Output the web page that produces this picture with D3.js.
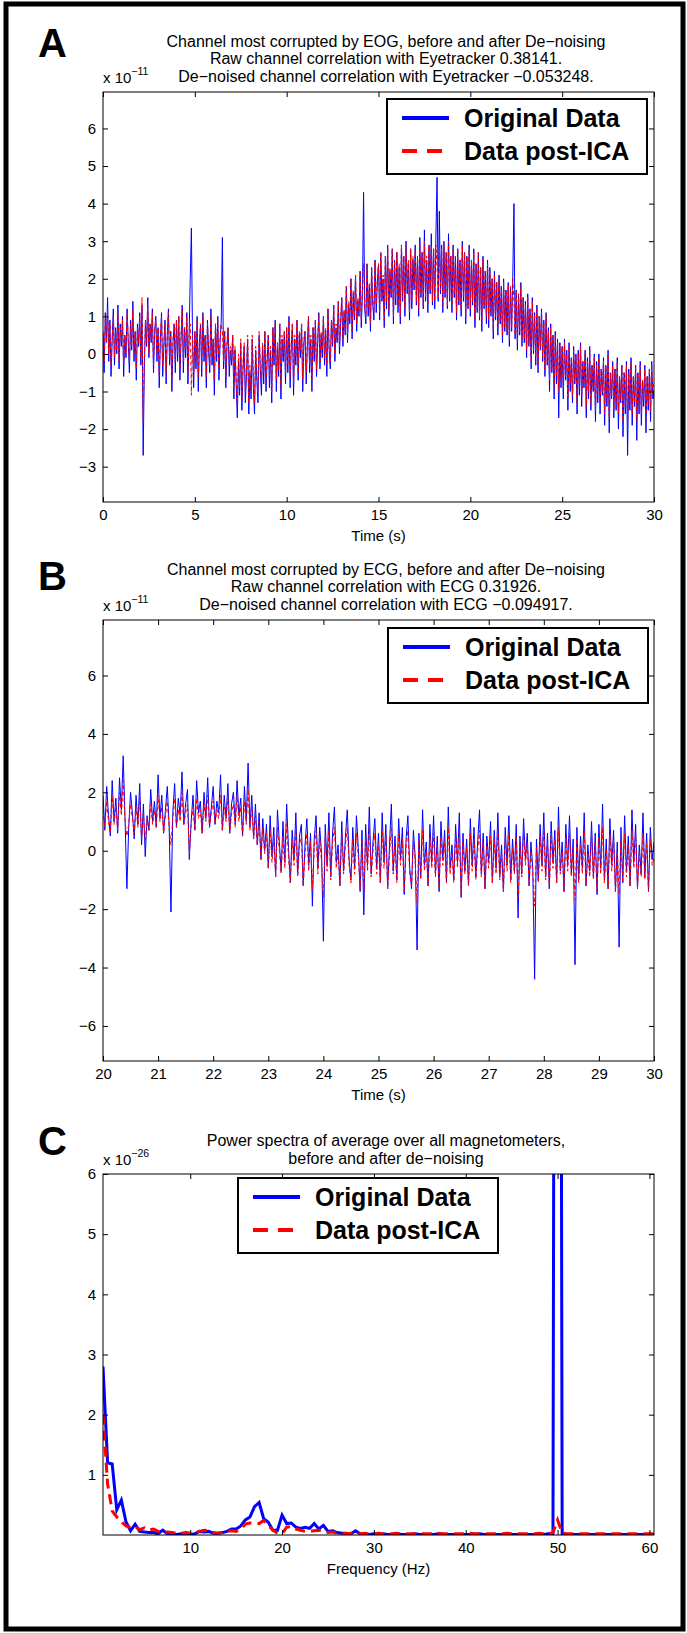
<!DOCTYPE html>
<html>
<head>
<meta charset="utf-8">
<title>EOG / ECG de-noising</title>
<style>
body { margin: 0; background: #fff; }
svg text { font-family: "Liberation Sans", Arial, Helvetica, sans-serif; fill: #000; }
.tick line { stroke: #000; }
</style>
</head>
<body>
<script src="https://cdn.jsdelivr.net/npm/d3@7"></script>
<script>

var width = 687,
    height = 1633;
var left = 103, right = 654;

// ---- panel A : channel most corrupted by EOG (x 1e-11), 16 values per second
var eogStart = 0, eogStep = 0.0625;
var eogOriginal = [
 0.6,-0.5,1.1,0.3,1.5,-0.2,0.9,-0.6,0.4,1.2,-0.3,0.7,0.0,1.3,-0.4,0.8,
 0.2,1.0,-0.6,0.5,-0.1,1.2,0.3,-0.5,0.9,0.1,1.4,-0.2,0.6,-0.7,0.8,0.2,
 1.1,-0.3,1.3,-2.7,-0.4,0.9,0.2,1.5,-0.1,0.8,0.3,1.2,-0.5,0.6,1.0,-0.2,
 0.7,-0.9,0.4,1.1,-0.6,0.2,0.9,-0.8,0.5,1.2,-0.3,0.6,-1.0,0.3,0.8,-0.5,
 0.9,-0.2,1.0,-0.7,0.4,1.3,-0.5,0.7,-0.1,1.1,-0.8,0.5,2.0,3.35,0.4,-0.9,
 0.6,-0.4,1.0,-1.0,0.3,0.8,-0.6,1.1,-0.2,0.5,-0.9,0.9,0.1,-0.5,1.2,-0.3,
 0.4,-1.1,0.8,-0.2,1.0,-0.7,0.3,0.9,3.1,-0.4,0.6,-0.9,0.2,0.7,-0.6,0.1,
 -0.3,0.5,-1.2,0.1,-0.8,-1.7,-0.2,-1.1,0.3,-1.5,-0.4,0.2,-1.3,-0.6,0.4,-1.6,
 -0.5,-1.2,0.4,-0.9,-1.6,0.1,-0.7,-1.3,0.5,-0.4,-1.1,0.2,-0.8,0.6,-1.0,-0.2,
 0.5,-0.9,0.1,-1.3,0.7,-0.3,0.9,-1.0,0.2,-0.6,0.8,-1.2,0.4,-0.2,0.6,-0.8,
 0.7,-0.5,1.0,-0.9,0.2,0.8,-1.1,0.4,-0.3,0.9,-0.7,0.5,-0.1,0.8,-1.0,0.3,
 0.6,-0.8,0.2,1.0,-0.5,0.4,-1.0,0.7,-0.2,0.9,-0.6,0.3,1.1,-0.4,0.5,-0.1,
 1.0,-0.3,0.6,-0.6,1.2,0.1,-0.4,0.9,0.2,1.3,-0.2,0.7,0.3,1.4,0.0,0.8,
 1.5,0.2,1.1,0.5,1.8,0.3,1.3,0.8,2.0,0.4,1.6,0.9,2.1,0.6,1.4,1.0,
 2.2,0.7,1.6,4.3,1.2,0.8,2.4,1.0,1.8,0.6,2.3,1.3,0.9,2.5,1.1,1.9,
 2.4,0.9,2.7,1.4,2.0,0.7,2.6,1.2,2.9,1.0,2.2,1.5,2.8,0.8,2.5,1.3,
 2.7,1.1,2.3,0.8,2.9,1.4,2.6,1.0,3.0,1.6,2.4,0.9,2.8,1.2,2.5,1.7,
 2.9,1.3,2.6,1.0,3.1,1.5,2.7,1.2,3.3,1.4,2.5,1.1,2.9,1.6,3.2,1.3,
 2.8,1.2,3.1,4.7,1.4,3.8,1.6,2.9,1.1,3.0,1.5,2.7,1.2,3.2,1.4,2.6,
 1.1,2.9,1.5,2.6,0.9,2.8,1.3,2.5,1.0,3.0,1.4,2.7,0.8,2.6,1.2,2.9,
 1.0,2.5,1.3,2.8,0.7,2.4,1.1,2.7,0.9,2.3,0.6,2.6,1.2,2.2,0.8,2.5,
 0.7,2.3,1.0,2.0,0.4,2.2,0.9,1.9,0.5,2.1,0.8,1.8,0.3,2.0,0.6,1.7,
 0.5,1.9,0.2,1.8,0.6,2.1,4.0,0.4,1.7,0.1,1.6,0.5,1.9,0.2,1.5,0.3,
 1.4,-0.1,1.6,0.2,1.2,-0.4,1.5,0.0,1.1,-0.3,1.3,-0.5,1.0,0.1,1.2,-0.2,
 0.9,-0.6,1.1,-0.3,0.7,-1.0,0.8,-0.5,0.5,-1.2,0.6,-0.8,0.4,-1.7,0.3,-0.9,
 0.2,-1.2,0.4,-0.7,0.1,-1.5,0.3,-1.0,-0.1,-1.3,0.2,-0.8,0.0,-1.6,0.1,-1.1,
 0.3,-1.4,-0.2,-0.9,0.1,-1.7,-0.1,-1.2,0.2,-1.5,-0.3,-1.0,0.0,-1.8,-0.2,-1.3,
 0.0,-1.6,-0.4,-1.1,-0.1,-1.9,-0.3,-1.4,0.1,-2.1,-0.5,-1.2,-0.2,-1.7,-0.4,-1.5,
 -0.1,-2.0,-0.6,-1.3,-0.3,-2.2,-0.5,-1.6,-0.2,-2.7,-0.4,-1.5,-0.1,-1.9,-0.6,-1.4,
 -0.3,-2.3,-0.5,-1.6,-0.2,-1.9,-0.7,-1.4,-0.3,-2.1,-0.6,-1.5,-0.4,-1.8,-0.2,-1.2,
 -1.0];
var eogPostICA = [
 0.5,-0.2,0.9,0.3,1.2,0.0,0.8,-0.3,0.4,1.0,-0.1,0.6,0.1,1.1,-0.2,0.7,
 0.3,0.9,-0.3,0.5,0.0,1.1,0.4,-0.2,0.8,0.2,1.2,0.0,0.6,-0.4,0.7,0.3,
 1.0,-0.1,1.5,-1.8,-0.2,0.9,0.3,1.3,0.0,0.8,0.4,1.1,-0.3,0.6,0.9,0.0,
 0.7,-0.6,0.5,1.0,-0.3,0.3,0.8,-0.5,0.5,1.1,-0.1,0.6,-0.7,0.4,0.8,-0.2,
 0.9,0.0,1.0,-0.4,0.5,1.2,-0.2,0.7,0.1,1.0,-0.5,0.5,0.8,-1.1,0.5,-0.5,
 0.6,-0.2,0.9,-0.6,0.4,0.8,-0.3,1.0,0.0,0.5,-0.6,0.8,0.2,-0.3,1.0,-0.1,
 0.4,-0.7,0.8,0.0,0.9,-0.4,0.4,0.8,0.6,-0.2,0.6,-0.6,0.3,0.7,-0.3,0.2,
 -0.1,0.5,-0.9,0.2,-0.6,-1.4,0.0,-0.9,0.4,-1.2,-0.2,0.3,-1.0,-0.4,0.5,-1.3,
 -0.3,-1.0,0.5,-0.6,-1.3,0.2,-0.5,-1.0,0.6,-0.2,-0.8,0.3,-0.5,0.6,-0.7,0.0,
 0.5,-0.6,0.2,-1.0,0.7,-0.1,0.8,-0.7,0.3,-0.4,0.8,-0.9,0.5,0.0,0.6,-0.5,
 0.7,-0.3,0.9,-0.6,0.3,0.8,-0.8,0.5,-0.1,0.9,-0.5,0.6,0.1,0.8,-0.7,0.4,
 0.6,-0.5,0.3,1.0,-0.3,0.5,-0.7,0.7,0.0,0.9,-0.4,0.4,1.0,-0.2,0.6,0.1,
 1.0,-0.1,0.7,-0.3,1.2,0.2,-0.2,0.9,0.3,1.3,0.0,0.8,0.4,1.4,0.2,0.9,
 1.5,0.4,1.2,0.6,1.8,0.5,1.4,0.9,2.0,0.6,1.7,1.0,2.1,0.8,1.5,1.1,
 2.2,0.9,1.7,2.4,1.2,1.0,2.4,1.2,1.9,0.8,2.3,1.4,1.1,2.5,1.3,2.0,
 2.4,1.1,2.7,1.5,2.1,0.9,2.6,1.4,2.8,1.2,2.3,1.6,2.8,1.0,2.5,1.5,
 2.7,1.3,2.4,1.0,2.9,1.5,2.6,1.2,2.9,1.7,2.5,1.1,2.8,1.4,2.6,1.8,
 2.8,1.4,2.6,1.2,2.9,1.6,2.7,1.3,3.0,1.5,2.6,1.3,2.9,1.7,2.9,1.4,
 2.8,1.4,2.9,2.3,1.5,2.7,1.7,2.8,1.3,2.9,1.6,2.7,1.3,3.0,1.5,2.6,
 1.3,2.8,1.6,2.6,1.1,2.8,1.4,2.5,1.2,2.9,1.5,2.7,1.0,2.6,1.3,2.8,
 1.2,2.5,1.4,2.7,0.9,2.4,1.2,2.7,1.0,2.3,0.8,2.5,1.3,2.2,1.0,2.4,
 0.9,2.2,1.1,2.0,0.6,2.1,1.0,1.9,0.7,2.0,0.9,1.8,0.5,1.9,0.7,1.7,
 0.6,1.8,0.4,1.8,0.7,2.0,1.4,0.5,1.7,0.3,1.6,0.6,1.8,0.4,1.5,0.4,
 1.3,0.1,1.5,0.3,1.2,-0.2,1.4,0.1,1.0,-0.1,1.2,-0.3,1.0,0.2,1.1,-0.1,
 0.8,-0.4,1.0,-0.2,0.6,-0.7,0.7,-0.4,0.5,-0.9,0.5,-0.6,0.3,-1.0,0.2,-0.7,
 0.2,-0.9,0.3,-0.6,0.0,-1.2,0.2,-0.8,-0.1,-1.1,0.1,-0.7,-0.1,-1.3,0.0,-0.9,
 0.2,-1.1,-0.2,-0.8,0.0,-1.4,-0.2,-1.0,0.1,-1.3,-0.3,-0.9,-0.1,-1.5,-0.3,-1.1,
 -0.1,-1.3,-0.4,-1.0,-0.2,-1.6,-0.3,-1.2,0.0,-1.7,-0.5,-1.1,-0.3,-1.5,-0.4,-1.3,
 -0.2,-1.6,-0.6,-1.2,-0.3,-1.8,-0.5,-1.4,-0.3,-1.7,-0.5,-1.3,-0.2,-1.6,-0.6,-1.3,
 -0.3,-1.8,-0.5,-1.4,-0.3,-1.6,-0.7,-1.2,-0.4,-1.7,-0.6,-1.3,-0.4,-1.5,-0.3,-1.1,
 -0.8];
var eogTitle = ["Channel most corrupted by EOG, before and after De\u2212noising",
                "Raw channel correlation with Eyetracker 0.38141.",
                "De\u2212noised channel correlation with Eyetracker \u22120.053248."];
var eogXTicks = [0, 5, 10, 15, 20, 25, 30];
var eogYTicks = [-3, -2, -1, 0, 1, 2, 3, 4, 5, 6];

// ---- panel B : channel most corrupted by ECG (x 1e-11), 30 values per second
var ecgStart = 20, ecgStep = 1 / 30;
var ecgOriginal = [
 1.9,0.7,2.2,1.2,0.5,2.4,1.0,1.8,0.6,2.5,1.4,3.25,1.1,-1.3,0.8,2.0,1.3,0.4,1.9,0.9,2.3,0.2,1.6,-0.2,1.2,0.7,2.1,1.0,1.7,0.8,
 2.6,1.1,1.9,0.6,1.4,2.2,0.9,-2.1,1.3,2.3,0.8,1.8,1.2,2.7,0.9,1.6,2.1,-0.3,1.0,1.9,0.7,2.4,1.3,1.7,0.6,2.0,1.1,2.5,0.8,1.5,
 2.2,0.9,1.7,1.3,2.6,0.7,1.9,1.1,2.3,0.6,1.6,2.0,0.9,2.4,1.2,1.8,0.5,2.2,1.0,3.0,0.8,1.9,0.4,1.6,0.2,1.3,-0.3,1.1,0.0,0.9,
 -0.6,1.2,-0.2,0.8,-0.9,1.4,0.3,-0.7,1.0,-0.4,1.6,0.1,-1.1,0.7,-0.3,1.3,-0.8,0.5,0.9,-1.2,0.2,1.1,-0.5,0.6,-1.9,0.4,1.2,-0.6,0.8,-0.1,
 -3.1,0.9,-0.5,1.3,-0.9,0.6,1.5,-0.4,0.2,-1.2,1.0,-0.7,0.5,1.4,-0.3,-1.0,0.8,-0.6,1.2,0.1,-1.4,0.7,-2.2,0.9,-0.5,1.5,-0.8,0.3,1.1,-0.6,
 0.6,-1.1,1.3,-0.4,0.9,-1.3,0.2,1.6,-0.7,0.5,-1.0,1.1,-0.3,0.8,-1.5,0.4,1.2,-0.6,-1.3,0.7,-0.2,-3.4,0.6,-0.9,1.4,-0.5,0.3,-1.2,0.9,-0.4,
 1.2,-0.8,0.5,-1.4,1.0,-0.3,0.7,-1.1,1.5,-0.6,0.2,-1.0,0.9,-0.4,1.3,-1.6,0.6,-0.7,0.4,-1.2,1.1,-0.5,0.8,-0.9,0.3,1.4,-0.8,0.6,-1.3,0.5,
 -0.4,1.0,-1.1,0.7,-0.6,1.3,-0.9,0.2,-1.4,0.8,-0.5,1.2,-1.0,0.4,-0.7,0.9,-2.3,0.5,-0.8,1.1,-0.3,0.6,-1.2,0.3,-0.6,-4.4,0.4,-1.0,0.9,-0.5,
 1.3,-0.9,0.6,-1.3,1.0,-0.4,0.7,-1.1,1.5,-0.7,0.3,-1.4,0.9,-0.5,1.2,-0.8,0.4,-3.9,0.8,-1.0,0.5,-0.6,1.3,-1.2,0.2,-0.7,1.0,-0.9,0.6,-1.5,
 0.9,-0.6,1.6,-1.0,0.4,-1.3,1.1,-0.5,0.7,-1.4,0.3,-3.3,0.8,-1.1,1.2,-0.7,0.5,-1.2,1.4,-0.4,0.9,-1.3,0.2,-0.8,1.3,-0.9,0.6,-1.4,0.8,-0.3,
 0.3];
var ecgPostICA = [
 1.4,0.8,1.7,1.0,0.6,1.9,0.9,1.5,0.7,2.0,1.2,2.4,1.0,0.5,0.9,1.6,1.1,0.6,1.5,0.8,1.8,0.4,1.3,0.3,1.1,0.7,1.6,0.9,1.4,0.8,
 1.9,1.0,1.5,0.6,1.2,1.7,0.8,0.2,1.1,1.8,0.8,1.4,1.0,2.0,0.9,1.3,1.6,-0.1,0.9,1.5,0.7,1.8,1.1,1.4,0.6,1.6,1.0,1.9,0.8,1.3,
 1.7,0.9,1.4,1.1,1.9,0.7,1.5,1.0,1.8,0.6,1.3,1.6,0.8,1.9,1.0,1.5,0.5,1.7,0.9,2.1,0.7,1.5,0.4,1.2,0.2,1.0,-0.3,0.8,-0.1,0.6,
 -0.6,0.7,-0.4,0.4,-0.9,0.8,0.0,-0.8,0.5,-0.6,0.9,-0.2,-1.1,0.4,-0.5,0.7,-0.9,0.2,0.5,-1.2,-0.1,0.6,-0.7,0.3,-1.3,0.1,0.7,-0.8,0.4,-0.4,
 -1.6,0.5,-0.7,0.7,-1.0,0.3,0.8,-0.6,-0.1,-1.2,0.6,-0.8,0.2,0.8,-0.5,-1.1,0.4,-0.8,0.6,-0.2,-1.3,0.3,-1.4,0.5,-0.7,0.8,-0.9,0.0,0.6,-0.8,
 0.3,-1.1,0.7,-0.6,0.5,-1.3,-0.1,0.8,-0.8,0.2,-1.1,0.6,-0.5,0.4,-1.4,0.1,0.7,-0.8,-1.2,0.3,-0.4,-1.8,0.3,-1.0,0.7,-0.7,0.0,-1.2,0.5,-0.6,
 0.6,-0.9,0.2,-1.3,0.5,-0.5,0.3,-1.1,0.8,-0.8,-0.1,-1.1,0.5,-0.6,0.7,-1.5,0.3,-0.8,0.1,-1.2,0.6,-0.7,0.4,-1.0,0.0,0.7,-0.9,0.3,-1.3,0.2,
 -0.6,0.5,-1.1,0.4,-0.8,0.7,-1.0,-0.1,-1.4,0.4,-0.7,0.6,-1.1,0.1,-0.8,0.5,-1.6,0.2,-0.9,0.6,-0.5,0.3,-1.2,0.0,-0.8,-1.9,0.1,-1.1,0.5,-0.7,
 0.7,-1.0,0.3,-1.3,0.5,-0.6,0.4,-1.1,0.8,-0.8,0.0,-1.4,0.5,-0.7,0.6,-0.9,0.1,-1.7,0.4,-1.1,0.2,-0.8,0.7,-1.2,-0.1,-0.9,0.5,-1.0,0.3,-1.4,
 0.5,-0.8,0.8,-1.1,0.1,-1.3,0.6,-0.7,0.4,-1.4,0.0,-1.5,0.4,-1.1,0.6,-0.9,0.2,-1.2,0.7,-0.6,0.5,-1.3,-0.1,-0.9,0.6,-1.0,0.3,-1.4,0.4,-0.5,
 -0.2];
var ecgTitle = ["Channel most corrupted by ECG, before and after De\u2212noising",
                "Raw channel correlation with ECG 0.31926.",
                "De\u2212noised channel correlation with ECG \u22120.094917."];
var ecgXTicks = [20, 21, 22, 23, 24, 25, 26, 27, 28, 29, 30];
var ecgYTicks = [-6, -4, -2, 0, 2, 4, 6];

// ---- panel C : power spectra (x 1e-26), one value every 0.5 Hz from 0.5 Hz
var specStart = 0.5, specStep = 0.5;
var specOriginal = [
 2.8,1.2,1.18,0.42,0.58,0.22,0.07,0.18,0.06,0.05,
 0.04,0.04,0.02,0.08,0.02,0.02,0.01,0.02,0.01,0.01,
 0.02,0.06,0.05,0.06,0.03,0.03,0.04,0.06,0.1,0.1,
 0.15,0.25,0.3,0.47,0.54,0.27,0.21,0.08,0.08,0.33,
 0.19,0.2,0.13,0.11,0.13,0.11,0.19,0.1,0.16,0.06,
 0.07,0.04,0.03,0.03,0.02,0.07,0.02,0.02,0.01,0.02,
 0.01,0.02,0.01,0.01,0.02,0.01,0.01,0.01,0.02,0.01,
 0.01,0.01,0.01,0.02,0.01,0.01,0.01,0.01,0.01,0.01,
 0.01,0.01,0.02,0.01,0.01,0.01,0.01,0.01,0.01,0.01,
 0.01,0.01,0.01,0.01,0.01,0.01,0.01,0.02,0.02,40,
 0.02,0.01,0.01,0.01,0.01,0.01,0.01,0.01,0.01,0.01,
 0.01,0.01,0.01,0.01,0.01,0.01,0.01,0.01,0.01,0.01,
 0.01];
var specPostICA = [
 2.0,0.85,0.4,0.3,0.22,0.15,0.12,0.14,0.09,0.12,
 0.08,0.1,0.06,0.04,0.05,0.04,0.03,0.03,0.04,0.03,
 0.05,0.06,0.08,0.07,0.04,0.03,0.04,0.06,0.07,0.06,
 0.1,0.18,0.2,0.2,0.19,0.24,0.16,0.08,0.03,0.02,
 0.13,0.14,0.1,0.08,0.06,0.06,0.07,0.08,0.06,0.04,
 0.05,0.03,0.03,0.02,0.03,0.02,0.02,0.03,0.02,0.02,
 0.03,0.02,0.02,0.02,0.03,0.02,0.02,0.02,0.02,0.03,
 0.02,0.02,0.02,0.03,0.02,0.02,0.02,0.02,0.02,0.02,
 0.03,0.02,0.02,0.02,0.02,0.02,0.02,0.02,0.03,0.02,
 0.02,0.02,0.02,0.02,0.02,0.03,0.02,0.02,0.04,0.25,
 0.03,0.02,0.02,0.02,0.02,0.02,0.02,0.02,0.02,0.02,
 0.02,0.02,0.02,0.02,0.02,0.02,0.02,0.02,0.02,0.02,
 0.02];
var specTitle = ["Power spectra of average over all magnetometers,",
                 "before and after de\u2212noising"];
var specXTicks = [10, 20, 30, 40, 50, 60];
var specYTicks = [1, 2, 3, 4, 5, 6];

var legendNames = ["Original Data", "Data post-ICA"];


var svg = d3.select("body").append("svg")
    .attr("width", width)
    .attr("height", height);

// thick frame round the whole figure
svg.append("rect")
    .attr("x", 6).attr("y", 4)
    .attr("width", 677).attr("height", 1625)
    .attr("fill", "none")
    .attr("stroke", "#000")
    .attr("stroke-width", 5);


function toPoints(values, start, step) {
	return values.map(function (v, i) { return [start + i * step, v]; });
}

function drawPanel(p) {
	var g = svg.append("g").attr("id", "panel_" + p.letter);

	var x = d3.scaleLinear().domain(p.xDomain).range([left, right]);
	var y = d3.scaleLinear().domain(p.yDomain).range([p.bottom, p.top]);

	g.append("clipPath").attr("id", "clip_" + p.letter)
	  .append("rect")
		.attr("x", left).attr("y", p.top)
		.attr("width", right - left).attr("height", p.bottom - p.top);

	var line = d3.line()
		.x(function (d) { return x(d[0]); })
		.y(function (d) { return y(d[1]); });

	var plot = g.append("g").attr("clip-path", "url(#clip_" + p.letter + ")");
	plot.append("path")
		.datum(p.blue)
		.attr("d", line)
		.attr("fill", "none")
		.attr("stroke", "#0000ff")
		.attr("stroke-width", p.lineWidth);
	plot.append("path")
		.datum(p.red)
		.attr("d", line)
		.attr("fill", "none")
		.attr("stroke", "#ff0000")
		.attr("stroke-width", p.lineWidth)
		.attr("stroke-dasharray", p.dash);

	// axes, ticks pointing inwards on all four sides
	var fmt = d3.format("d");
	g.append("g").attr("transform", "translate(0," + p.bottom + ")")
		.call(d3.axisBottom(x).tickValues(p.xTicks).tickSize(-5).tickPadding(7).tickFormat(fmt));
	g.append("g").attr("transform", "translate(0," + p.top + ")")
		.call(d3.axisTop(x).tickValues(p.xTicks).tickSize(-5).tickFormat(""));
	g.append("g").attr("transform", "translate(" + left + ",0)")
		.call(d3.axisLeft(y).tickValues(p.yTicks).tickSize(-5).tickPadding(7).tickFormat(fmt));
	g.append("g").attr("transform", "translate(" + right + ",0)")
		.call(d3.axisRight(y).tickValues(p.yTicks).tickSize(-5).tickFormat(""));
	g.selectAll(".domain").remove();
	g.selectAll(".tick text").style("font-size", "15px")
		.style("font-family", "'Liberation Sans', Arial, sans-serif");

	g.append("rect")
		.attr("x", left).attr("y", p.top)
		.attr("width", right - left).attr("height", p.bottom - p.top)
		.attr("fill", "none").attr("stroke", "#000").attr("stroke-width", 1);

	// title lines
	var nt = p.title.length;
	g.selectAll(".title").data(p.title).enter().append("text")
		.attr("class", "title")
		.attr("x", 386)
		.attr("y", function (d, i) { return p.top - 10 - (nt - 1 - i) * 17.7; })
		.attr("text-anchor", "middle")
		.style("font-size", "16px")
		.text(function (d) { return d; });

	// exponent label
	var ex = g.append("text").attr("x", left).attr("y", p.top - 9).style("font-size", "15px");
	ex.append("tspan").text("x 10");
	ex.append("tspan").attr("dy", -8).style("font-size", "10.5px").text(p.exponent);

	// x label
	g.append("text")
		.attr("x", (left + right) / 2)
		.attr("y", p.bottom + 39)
		.attr("text-anchor", "middle")
		.style("font-size", "15px")
		.text(p.xLabel);

	// panel letter
	g.append("text")
		.attr("x", 38).attr("y", p.letterY)
		.style("font-size", "40px").style("font-weight", "bold")
		.text(p.letter);

	// legend
	var lg = g.append("g").attr("transform", "translate(" + p.legendX + "," + (p.top + p.legendDy) + ")");
	lg.append("rect")
		.attr("width", 260).attr("height", 75)
		.attr("fill", "#fff").attr("stroke", "#000").attr("stroke-width", 2);
	var items = [{name: legendNames[0], color: "#0000ff", dash: null},
	             {name: legendNames[1], color: "#ff0000", dash: "15,10"}];
	items.forEach(function (it, i) {
		var cy = 19 + i * 33;
		lg.append("line")
			.attr("x1", 15).attr("x2", 62).attr("y1", cy).attr("y2", cy)
			.attr("stroke", it.color).attr("stroke-width", 4)
			.attr("stroke-dasharray", it.dash);
		lg.append("text")
			.attr("x", 77).attr("y", cy + 8.5)
			.style("font-size", "25px").style("font-weight", "bold")
			.text(it.name);
	});
}

drawPanel({
	letter: "A", letterY: 57, top: 92, bottom: 502,
	xDomain: [0, 30], yDomain: [-3.94, 6.97],
	xTicks: eogXTicks, yTicks: eogYTicks,
	blue: toPoints(eogOriginal, eogStart, eogStep),
	red: toPoints(eogPostICA, eogStart, eogStep),
	lineWidth: 1, dash: "4,2.5",
	title: eogTitle, exponent: "\u221211", xLabel: "Time (s)",
	legendX: 387, legendDy: 7
});

drawPanel({
	letter: "B", letterY: 590, top: 620, bottom: 1061,
	xDomain: [20, 30], yDomain: [-7.2, 7.9],
	xTicks: ecgXTicks, yTicks: ecgYTicks,
	blue: toPoints(ecgOriginal, ecgStart, ecgStep),
	red: toPoints(ecgPostICA, ecgStart, ecgStep),
	lineWidth: 1, dash: "4,2.5",
	title: ecgTitle, exponent: "\u221211", xLabel: "Time (s)",
	legendX: 388, legendDy: 8
});

drawPanel({
	letter: "C", letterY: 1155, top: 1174, bottom: 1535,
	xDomain: [0.5, 60.5], yDomain: [0, 6],
	xTicks: specXTicks, yTicks: specYTicks,
	blue: toPoints(specOriginal, specStart, specStep),
	red: toPoints(specPostICA, specStart, specStep),
	lineWidth: 3, dash: "10,6",
	title: specTitle, exponent: "\u221226", xLabel: "Frequency (Hz)",
	legendX: 238, legendDy: 4
});

</script>
